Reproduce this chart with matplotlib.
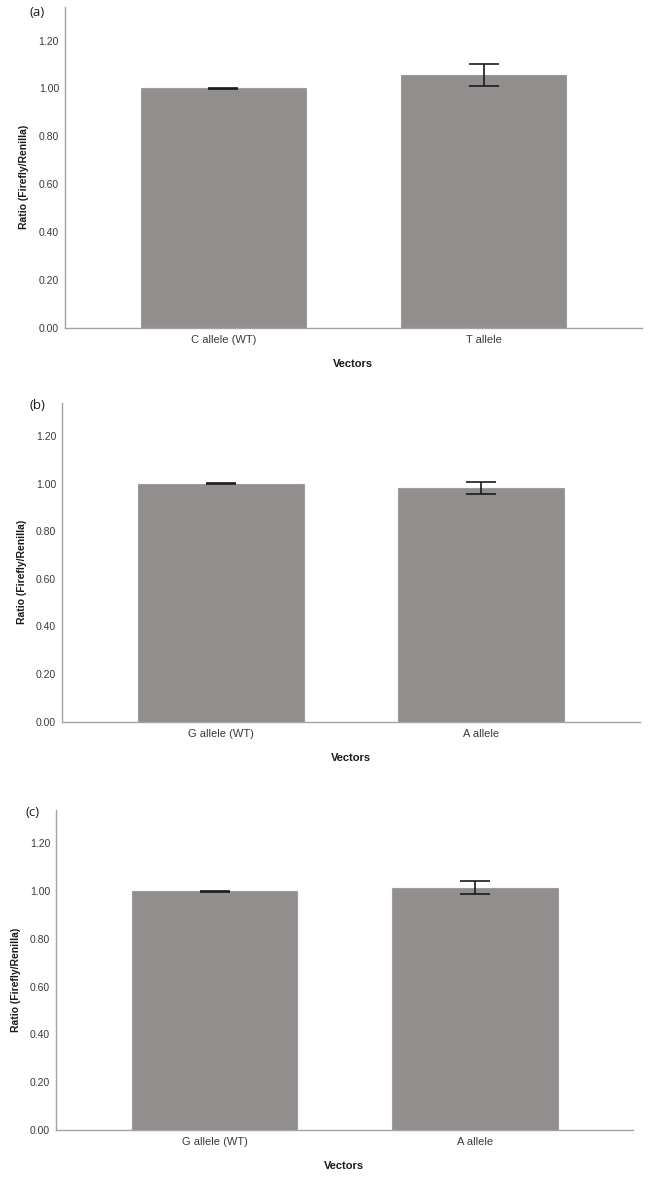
import matplotlib
matplotlib.use("Agg")
import matplotlib.pyplot as plt
from matplotlib.ticker import FormatStrFormatter

panel_labels = ['(a)', '(b)', '(c)']
categories_a = ['C allele (WT)', 'T allele']
values_a = [1.00, 1.055]
errors_a = [0.002, 0.047]
categories_b = ['G allele (WT)', 'A allele']
values_b = [1.00, 0.983]
errors_b = [0.002, 0.025]
categories_c = ['G allele (WT)', 'A allele']
values_c = [1.00, 1.015]
errors_c = [0.002, 0.027]
yticks = [0.0, 0.2, 0.4, 0.6, 0.8, 1.0, 1.2]
x_label = 'Vectors'
y_label = 'Ratio (Firefly/Renilla)'

fam = ['Liberation Sans Narrow', 'Liberation Sans', 'DejaVu Sans']
bar_color = '#928e8d'
axis_color = '#a3a3a3'
text_color = '#3a3a3a'

fig = plt.figure(figsize=(6.5, 11.81), dpi=100)

positions = [
    [0.0994, 0.7223, 0.8876, 0.2718],
    [0.0949, 0.3889, 0.8891, 0.2701],
    [0.0858, 0.0432, 0.8882, 0.2709],
]
ylab_x = [-0.061, -0.060, -0.060]
plabel_pos = [(30, 12), (30, 405), (25, 813)]

panels = [(categories_a, values_a, errors_a),
          (categories_b, values_b, errors_b),
          (categories_c, values_c, errors_c)]

for i, (cats, vals, errs) in enumerate(panels):
    ax = fig.add_axes(positions[i])
    xs = list(range(len(cats)))
    ax.bar(xs, vals, width=0.636, color=bar_color, edgecolor='#a09c9b', linewidth=0.8, zorder=2)
    ax.errorbar(xs, vals, yerr=errs, fmt='none', ecolor='#1a1a1a', elinewidth=1.2,
                capsize=10.5, capthick=1.2, zorder=3)
    ax.set_xlim(-0.61, 1.607)
    ax.set_ylim(0, 1.34)
    ax.set_yticks(yticks)
    ax.yaxis.set_major_formatter(FormatStrFormatter('%.2f'))
    ax.set_xticks(xs)
    ax.set_xticklabels(cats, family=fam, fontsize=8, color=text_color)
    for lab in ax.get_yticklabels():
        lab.set_family(fam)
        lab.set_fontsize(7.5)
        lab.set_color(text_color)
    ax.tick_params(axis='both', length=0, pad=5)
    ax.tick_params(axis='y', pad=4)
    for s in ['top', 'right']:
        ax.spines[s].set_visible(False)
    for s in ['left', 'bottom']:
        ax.spines[s].set_color(axis_color)
        ax.spines[s].set_linewidth(1.0)
    ax.set_xlabel(x_label, family=fam, fontsize=8, fontweight='bold', color='#1a1a1a', labelpad=10)
    ax.set_ylabel(y_label, family=fam, fontsize=7.5, fontweight='bold', color='#1a1a1a')
    ax.yaxis.set_label_coords(ylab_x[i], 0.47)
    px, py = plabel_pos[i]
    fig.text(px / 650, 1 - py / 1181, panel_labels[i], fontsize=9.5,
             family=['Open Sans', 'DejaVu Sans'], color='#1a1a1a', va='center', ha='left')

fig.savefig('out.png', dpi=100)
